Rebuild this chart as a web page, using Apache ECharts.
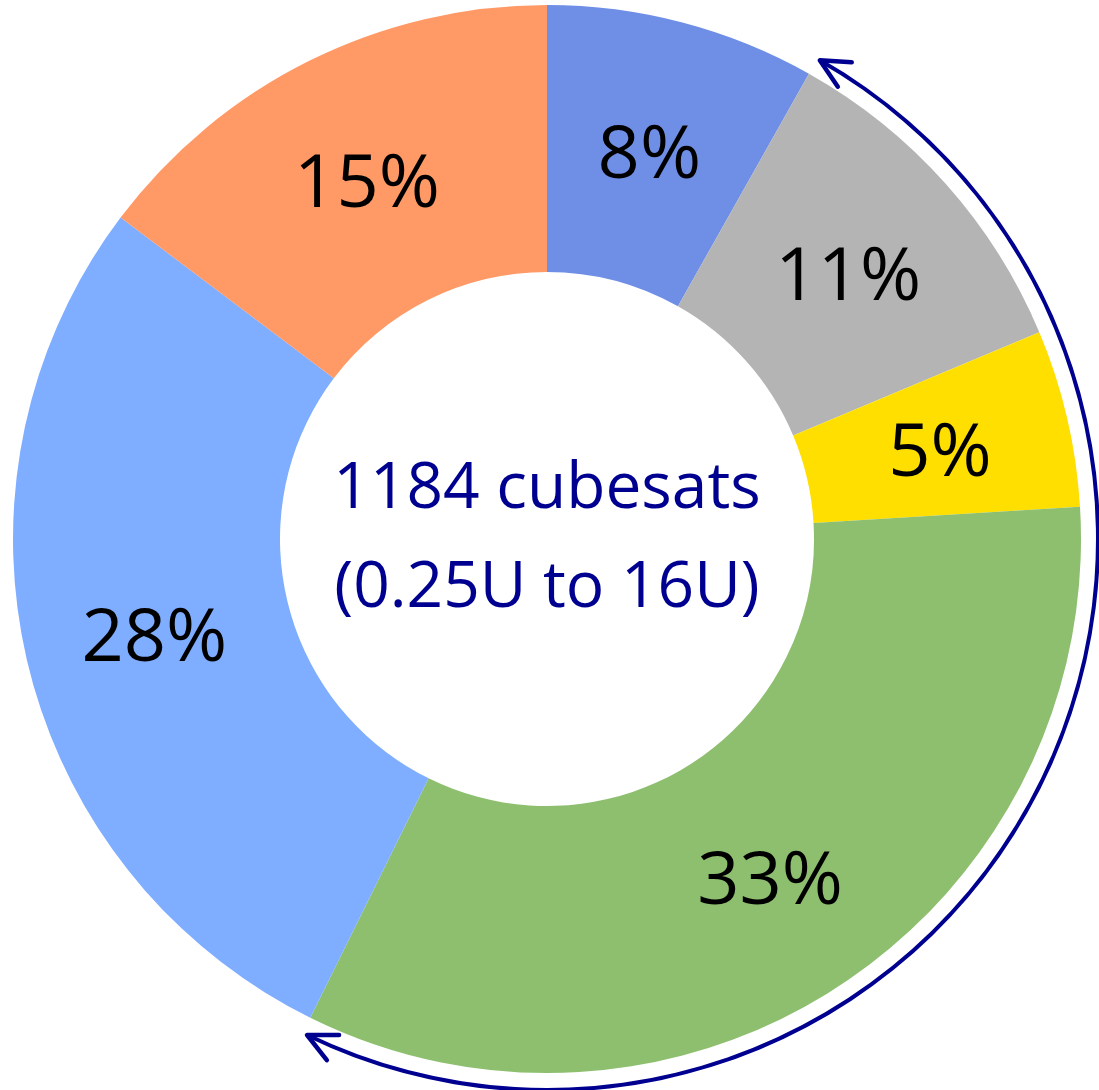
<!DOCTYPE html>
<html>
<head>
<meta charset="utf-8">
<script src="https://cdn.jsdelivr.net/npm/echarts@6/dist/echarts.min.js"></script>
<style>
  html, body { margin: 0; padding: 0; background: #ffffff; }
  #Root { width: 1099px; height: 1090px; }
</style>
</head>
<body>
<div id="Root"></div>
<script>
// slices, clockwise from 12 o'clock
const sliceNames = ["A", "B", "C", "D", "E", "F"]
// slice sizes (percent of the whole)
const sliceShares = [8.16, 10.51, 5.37, 33.27, 27.97, 14.72]
// labels printed on the slices
const sliceLabels = ["8%", "11%", "5%", "33%", "28%", "15%"]
const sliceColors = ["#6F8FE6", "#B4B4B4", "#FFDF00", "#8DBF6F", "#7FADFF", "#FF9966"]
const centerLines = ["1184 cubesats", "(0.25U to 16U)"]

const cx = 547, cy = 539
const rInner = 267, rOuter = 534
const rArrow = 551
const navy = "#000090"

// arrow spans the B..D slices (start of B to end of D), in compass degrees
let total = sliceShares.reduce((a, b) => a + b, 0)
let arcStartDeg = sliceShares[0] / total * 360 + 0.3
let arcEndDeg = (sliceShares[0] + sliceShares[1] + sliceShares[2] + sliceShares[3]) / total * 360 - 0.5

function toRad(compassDeg) {
    return (compassDeg - 90) * Math.PI / 180
}
function ptOnArc(deg) {
    let t = deg * Math.PI / 180
    return [cx + rArrow * Math.sin(t), cy - rArrow * Math.cos(t)]
}
function arrowHead(deg, dir) {
    // dir = -1 : head points counterclockwise, +1 : clockwise
    let t = deg * Math.PI / 180
    let tip = ptOnArc(deg)
    let bx = -dir * Math.cos(t), by = -dir * Math.sin(t)
    let back = Math.atan2(by, bx)
    let len = 32, spread = 26 * Math.PI / 180
    return [
        [tip[0] + len * Math.cos(back + spread), tip[1] + len * Math.sin(back + spread)],
        tip,
        [tip[0] + len * Math.cos(back - spread), tip[1] + len * Math.sin(back - spread)]
    ]
}

let chart = echarts.init(document.getElementById("Root"))

let option = {
    backgroundColor: "#ffffff",
    animation: false,
    series: [
        {
            type: "pie",
            center: [cx, cy],
            radius: [rInner, rOuter],
            startAngle: 90,
            clockwise: true,
            avoidLabelOverlap: false,
            itemStyle: { borderWidth: 0 },
            label: {
                show: true,
                position: "inside",
                formatter: (p) => sliceLabels[p.dataIndex],
                color: "#000000",
                fontFamily: "Open Sans",
                fontSize: 74
            },
            labelLayout: { dy: 8 },
            labelLine: { show: false },
            emphasis: { disabled: true },
            data: sliceNames.map((n, i) => ({
                name: n,
                value: sliceShares[i],
                itemStyle: { color: sliceColors[i] }
            }))
        }
    ],
    graphic: [
        {
            // thin ring band used as the arrow shaft
            type: "sector",
            shape: {
                cx: cx, cy: cy, r0: rArrow - 2, r: rArrow + 2,
                startAngle: toRad(arcStartDeg),
                endAngle: toRad(arcEndDeg),
                clockwise: true
            },
            style: { fill: navy, stroke: null }
        },
        {
            type: "polyline",
            shape: { points: arrowHead(arcStartDeg, -1) },
            style: { stroke: navy, lineWidth: 4.5, fill: null, lineCap: "round", lineJoin: "round" }
        },
        {
            type: "polyline",
            shape: { points: arrowHead(arcEndDeg, 1) },
            style: { stroke: navy, lineWidth: 4.5, fill: null, lineCap: "round", lineJoin: "round" }
        },
        {
            type: "text",
            x: cx,
            y: cy,
            style: {
                text: centerLines.join("\n"),
                fill: navy,
                font: "64px 'Open Sans'",
                lineHeight: 99,
                align: "center",
                verticalAlign: "middle"
            }
        }
    ]
}

chart.setOption(option)
</script>
</body>
</html>
